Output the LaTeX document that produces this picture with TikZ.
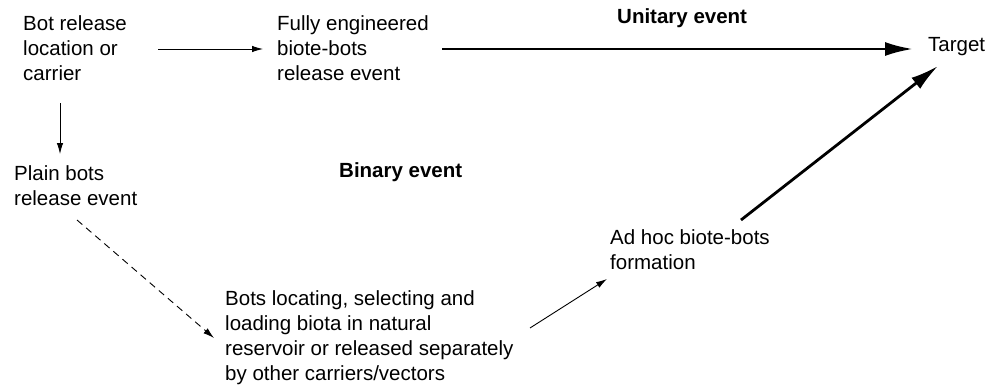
\documentclass[tikz,border=0pt]{standalone}
\usepackage{fontspec}
\setmainfont{Liberation Sans}
\usetikzlibrary{arrows.meta}
\begin{document}
\begin{tikzpicture}[x=1pt,y=-1pt,
  lbl/.style={inner sep=0pt,anchor=west,align=left,font=\fontsize{20.5}{25}\selectfont},
  title/.style={inner sep=0pt,anchor=west,font=\fontsize{20.5}{25}\selectfont\bfseries},
  thin/.style={line width=0.9pt,-{Latex[length=11pt,width=6.5pt]}},
  thick/.style={line width=2.8pt,-{Latex[length=28pt,width=14pt]}},
  dsh/.style={thin,dash pattern=on 7pt off 5pt}]
\useasboundingbox (0,0) rectangle (994,388);
\node[lbl] (bot) at (23,48) {Bot release\\location or\\carrier};
\node[lbl] (full) at (277,48) {Fully engineered\\biote-bots\\release event};
\node[title] (uni) at (617,18) {Unitary event};
\node[lbl] (tgt) at (928,47) {Target};
\node[lbl] (plain) at (14,186) {Plain bots\\release event};
\node[title] (bin) at (339,172) {Binary event};
\node[lbl] (adhoc) at (610,250) {Ad hoc biote-bots\\formation};
\node[lbl] (locate) at (225,338) {Bots locating, selecting and\\loading biota in natural\\reservoir or released separately\\by other carriers/vectors};
\coordinate (a1s) at (158,49);
\coordinate (a1e) at (263,49);
\draw[thin] (a1s) -- (a1e);
\coordinate (a2s) at (442,49);
\coordinate (a2e) at (913,49);
\draw[thick] (a2s) -- (a2e);
\coordinate (a3s) at (60,103);
\coordinate (a3e) at (60,154);
\draw[thin] (a3s) -- (a3e);
\coordinate (a4s) at (77,220);
\coordinate (a4e) at (214,338);
\draw[dsh] (a4s) -- (a4e);
\coordinate (a5s) at (530,328);
\coordinate (a5e) at (607,279);
\draw[thin] (a5s) -- (a5e);
\coordinate (a6s) at (741,220);
\coordinate (a6e) at (938,66);
\draw[thick] (a6s) -- (a6e);
\end{tikzpicture}
\end{document}
